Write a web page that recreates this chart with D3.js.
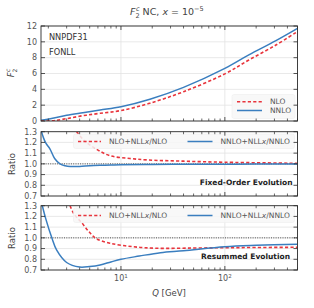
<!DOCTYPE html>
<html><head><meta charset="utf-8">
<script src="https://cdn.jsdelivr.net/npm/d3@7"></script>
<style>body{margin:0;background:#fff}svg{display:block}text{font-family:"DejaVu Sans",sans-serif}</style>
</head><body><svg id="c" width="314" height="308"></svg>
<script>
// ---- data ----
const qF2      = [1.7, 2.2, 3.0, 4.3, 6.3, 10, 19, 40, 100, 170, 310, 500];
const f2NLO    = [0.0, 0.03, 0.3, 0.67, 0.97, 1.32, 2.25, 3.7, 5.95, 7.7, 9.6, 11.3];
const f2NNLO   = [0.08, 0.35, 0.72, 1.05, 1.39, 1.8, 2.75, 4.25, 6.65, 8.35, 10.15, 11.7];

const qFoNLO   = [3.75, 4.4, 5.85, 7.84, 12.2, 18.2, 40, 100, 500];
const foNLO    = [1.3, 1.22, 1.135, 1.076, 1.05, 1.036, 1.025, 1.015, 1.005];
const qFoNNLO  = [1.72, 1.8, 1.9, 2.07, 2.3, 2.59, 2.9, 3.24, 4, 5, 6.3, 8, 10, 20, 50, 100, 200, 500];
const foNNLO   = [1.3, 1.24, 1.19, 1.14, 1.05, 1.0, 0.982, 0.975, 0.976, 0.982, 0.986, 0.989, 0.991, 0.994, 0.996, 0.997, 0.998, 0.998];

const qReNLO   = [3.24, 3.5, 4.2, 5.0, 5.85, 7.84, 13.1, 22, 50, 100, 200, 500];
const reNLO    = [1.3, 1.23, 1.14, 1.05, 0.99, 0.95, 0.917, 0.903, 0.905, 0.908, 0.91, 0.912];
const qReNNLO  = [1.75, 1.9, 2.16, 2.4, 3.0, 4.0, 5.0, 6.3, 8, 10, 15, 24, 40, 100, 200, 500];
const reNNLO   = [1.3, 1.17, 1.0, 0.887, 0.77, 0.727, 0.732, 0.747, 0.775, 0.8, 0.83, 0.862, 0.88, 0.917, 0.93, 0.94];

const f2Ticks    = [0, 2, 4, 6, 8, 10, 12];
const ratioTicks = [0.7, 0.8, 0.9, 1.0, 1.1, 1.2, 1.3];
const xMajor     = [10, 100];
const xMinor     = [2,3,4,5,6,7,8,9,20,30,40,50,60,70,80,90,200,300,400,500];

// ---- setup ----
const RED = "#e8343c", BLUE = "#3a7ebf", FRAME = "#2b2b2b", GRID = "#e3e3e3", TXT = "#555";
const svg = d3.select("#c");
const x = d3.scaleLog().domain([1.7, 500]).range([41, 297.5]);

const panels = [
  {id:"p0", y: d3.scaleLinear().domain([0,12]).range([121,26]), ticks:f2Ticks, fmt:d=>d},
  {id:"p1", y: d3.scaleLinear().domain([0.7,1.3]).range([196,131.7]), ticks:ratioTicks, fmt:d3.format(".1f")},
  {id:"p2", y: d3.scaleLinear().domain([0.7,1.3]).range([270,205.7]), ticks:ratioTicks, fmt:d3.format(".1f")}
];

const defs = svg.append("defs");
panels.forEach(p=>{
  const [b,t] = p.y.range();
  defs.append("clipPath").attr("id","clip"+p.id).append("rect")
    .attr("x",x.range()[0]).attr("y",t).attr("width",x.range()[1]-x.range()[0]).attr("height",b-t);
});

function drawPanel(p){
  const g = svg.append("g");
  const [b,t] = p.y.range(), [l,r] = x.range();
  g.selectAll(".hg").data(p.ticks).join("line")
    .attr("x1",l).attr("x2",r).attr("y1",d=>p.y(d)).attr("y2",d=>p.y(d))
    .attr("stroke",GRID).attr("stroke-width",0.8);
  g.selectAll(".vg").data(xMajor).join("line")
    .attr("x1",d=>x(d)).attr("x2",d=>x(d)).attr("y1",t).attr("y2",b)
    .attr("stroke",GRID).attr("stroke-width",0.8);
}
function drawFrame(p, showX){
  const g = svg.append("g");
  const [b,t] = p.y.range(), [l,r] = x.range();
  p.ticks.forEach(d=>{
    const yy = p.y(d);
    g.append("line").attr("x1",l).attr("x2",l+4).attr("y1",yy).attr("y2",yy).attr("stroke",FRAME).attr("stroke-width",0.8);
    g.append("line").attr("x1",r-4).attr("x2",r).attr("y1",yy).attr("y2",yy).attr("stroke",FRAME).attr("stroke-width",0.8);
    g.append("text").attr("x",l-4).attr("y",yy).attr("dy","0.35em").attr("text-anchor","end")
      .attr("font-size",8).attr("fill",TXT).text(p.fmt(d));
  });
  xMajor.forEach(d=>{
    const xx = x(d);
    g.append("line").attr("x1",xx).attr("x2",xx).attr("y1",b).attr("y2",b-4).attr("stroke",FRAME).attr("stroke-width",0.8);
    g.append("line").attr("x1",xx).attr("x2",xx).attr("y1",t).attr("y2",t+4).attr("stroke",FRAME).attr("stroke-width",0.8);
  });
  xMinor.forEach(d=>{
    const xx = x(d);
    g.append("line").attr("x1",xx).attr("x2",xx).attr("y1",b).attr("y2",b-2.5).attr("stroke",FRAME).attr("stroke-width",0.7);
    g.append("line").attr("x1",xx).attr("x2",xx).attr("y1",t).attr("y2",t+2.5).attr("stroke",FRAME).attr("stroke-width",0.7);
  });
  g.append("rect").attr("x",l).attr("y",t).attr("width",r-l).attr("height",b-t)
    .attr("fill","none").attr("stroke",FRAME).attr("stroke-width",0.9);
  if(showX){
    xMajor.forEach(d=>{
      const tx = g.append("text").attr("x",x(d)).attr("y",b+11).attr("text-anchor","middle")
        .attr("font-size",8).attr("fill",TXT);
      tx.append("tspan").text("10");
      tx.append("tspan").attr("dy",-3.5).attr("font-size",5.5).text(Math.round(Math.log10(d)));
    });
  }
}
function curve(p, qs, vs, color, dashed){
  const line = d3.line().x((d,i)=>x(qs[i])).y(d=>p.y(d)).curve(d3.curveCatmullRom.alpha(0.5));
  svg.append("path").datum(vs).attr("d",line).attr("clip-path","url(#clip"+p.id+")")
    .attr("fill","none").attr("stroke",color).attr("stroke-width",dashed?1.6:1.5)
    .attr("stroke-dasharray",dashed?"3.2,2.2":null);
}
function refLine(p){
  svg.append("line").attr("x1",x.range()[0]).attr("x2",x.range()[1])
    .attr("y1",p.y(1)).attr("y2",p.y(1)).attr("stroke","#222").attr("stroke-width",0.8)
    .attr("stroke-dasharray","1,1.3");
}
function legendBox(x0,y0,w,h){
  svg.append("rect").attr("x",x0).attr("y",y0).attr("width",w).attr("height",h).attr("rx",2)
    .attr("fill","#f7f7f7").attr("fill-opacity",0.85).attr("stroke","#eeeeee").attr("stroke-width",0.6);
}
function legItem(x0,y0,color,dashed,label,len){
  svg.append("line").attr("x1",x0).attr("x2",x0+len).attr("y1",y0).attr("y2",y0)
    .attr("stroke",color).attr("stroke-width",dashed?1.6:1.5).attr("stroke-dasharray",dashed?"3.2,2.2":null);
  const t = svg.append("text").attr("x",x0+len+8).attr("y",y0).attr("dy","0.35em")
    .attr("font-size",7.5).attr("fill",TXT);
  label(t);
}

panels.forEach(drawPanel);

curve(panels[0], qF2, f2NNLO, BLUE, false);
curve(panels[0], qF2, f2NLO, RED, true);
refLine(panels[1]);
curve(panels[1], qFoNLO, foNLO, RED, true);
curve(panels[1], qFoNNLO, foNNLO, BLUE, false);
refLine(panels[2]);
curve(panels[2], qReNLO, reNLO, RED, true);
curve(panels[2], qReNNLO, reNNLO, BLUE, false);

legendBox(232, 94.5, 63, 24);
legItem(237, 101.8, RED, true, t=>t.text("NLO"), 25);
legItem(237, 110.5, BLUE, false, t=>t.text("NNLO"), 25);

function nllLabel(t, base){
  t.append("tspan").text(base+"+NLL");
  t.append("tspan").attr("font-style","italic").text("x");
  t.append("tspan").text("/"+base);
}
legendBox(73.5, 134, 221, 14.5);
legItem(78, 141.5, RED, true, t=>nllLabel(t,"NLO"), 23);
legItem(187.5, 141.5, BLUE, false, t=>nllLabel(t,"NNLO"), 25);
legendBox(73.5, 208, 221, 14.5);
legItem(78, 215.5, RED, true, t=>nllLabel(t,"NLO"), 23);
legItem(187.5, 215.5, BLUE, false, t=>nllLabel(t,"NNLO"), 25);

panels.forEach((p,i)=>drawFrame(p, i===2));

svg.append("text").attr("x",49).attr("y",40).attr("font-size",8.2).attr("fill","#333").text("NNPDF31");
svg.append("text").attr("x",49).attr("y",55).attr("font-size",8.2).attr("fill","#333").text("FONLL");
svg.append("text").attr("x",292.5).attr("y",184.5).attr("text-anchor","end").attr("font-size",7.5)
  .attr("font-weight","bold").attr("fill","#222").text("Fixed-Order Evolution");
svg.append("text").attr("x",290).attr("y",259).attr("text-anchor","end").attr("font-size",7.5)
  .attr("font-weight","bold").attr("fill","#222").text("Resummed Evolution");

const title = svg.append("text").attr("x",130).attr("y",15).attr("font-size",9.5).attr("fill","#444");
title.append("tspan").attr("font-style","italic").text("F");
title.append("tspan").attr("font-size",6.5).attr("dy",2.5).text("2");
title.append("tspan").attr("font-size",6.5).attr("dx",-3.6).attr("dy",-7).attr("font-style","italic").text("c");
title.append("tspan").attr("dy",4.5).text(" NC, ");
title.append("tspan").attr("font-style","italic").text("x");
title.append("tspan").text(" = 10");
title.append("tspan").attr("font-size",6.5).attr("dy",-4).text("\u22125");

const yl = svg.append("text").attr("transform","translate(14,73) rotate(-90)").attr("text-anchor","middle")
  .attr("font-size",8.5).attr("fill","#444");
yl.append("tspan").attr("font-style","italic").text("F");
yl.append("tspan").attr("font-size",6).attr("dy",2.5).text("2");
yl.append("tspan").attr("font-size",6).attr("dx",-3.3).attr("dy",-6.5).attr("font-style","italic").text("c");
svg.append("text").attr("transform","translate(15,164) rotate(-90)").attr("text-anchor","middle")
  .attr("font-size",8.5).attr("fill","#444").text("Ratio");
svg.append("text").attr("transform","translate(15,238) rotate(-90)").attr("text-anchor","middle")
  .attr("font-size",8.5).attr("fill","#444").text("Ratio");

const xl = svg.append("text").attr("x",169).attr("y",296).attr("text-anchor","middle").attr("font-size",8.5).attr("fill","#444");
xl.append("tspan").attr("font-style","italic").text("Q");
xl.append("tspan").text(" [GeV]");
</script></body></html>
